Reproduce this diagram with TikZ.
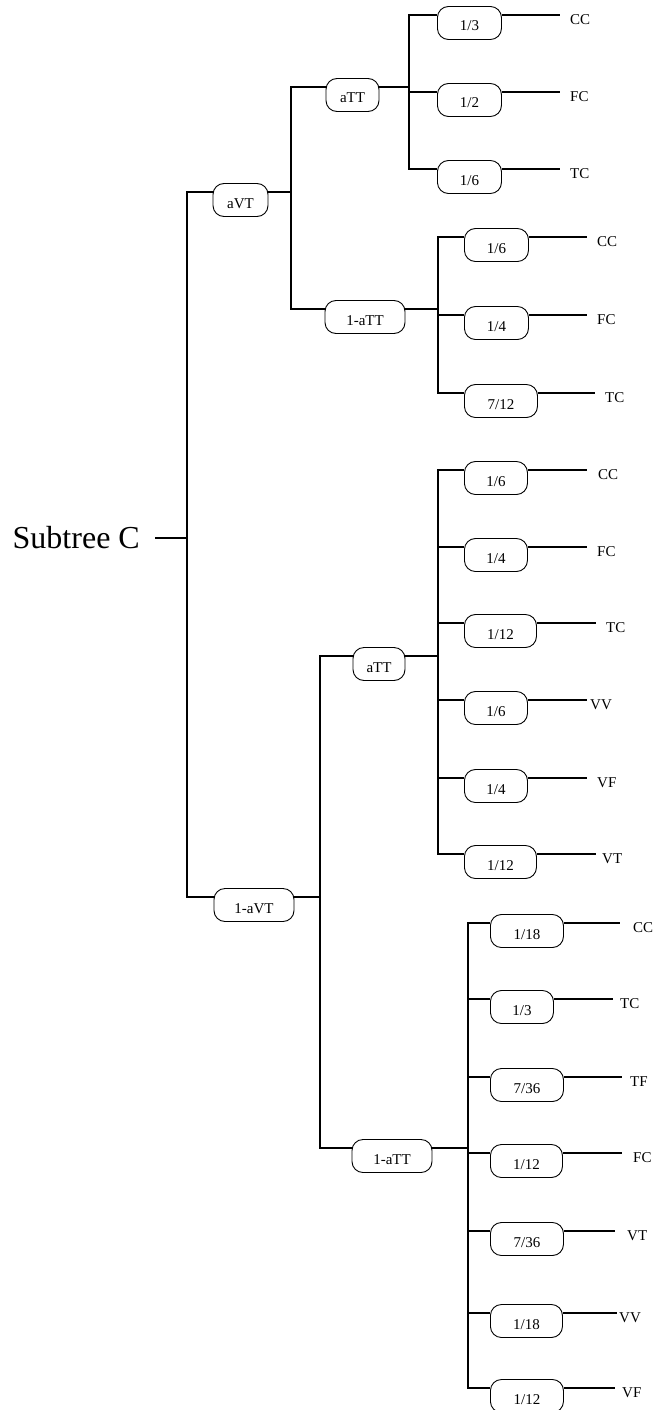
\documentclass[tikz,border=0pt]{standalone}
\usepackage{fontspec}
\setmainfont{Liberation Serif}
\tikzset{
  % ramo dell'albero
  branch/.style={line width=1.1pt},
  % probabilita' nel riquadro arrotondato
  prob/.style={draw, line width=0.9pt, rounded corners=11pt, minimum height=33pt,
    inner sep=1pt, text height=16pt, text depth=0pt, font=\fontsize{15}{17}\selectfont},
  % esito finale
  outcome/.style={font=\fontsize{15}{17}\selectfont, inner sep=0pt},
}

\begin{document}
\begin{tikzpicture}[x=1pt, y=-1pt]
  \useasboundingbox (0,0) rectangle (668,1410);
  \node[anchor=east, inner sep=0pt, font=\fontsize{32}{36}\selectfont] (sub) at (140,538) {Subtree C};
  \coordinate (j0) at (187,538);
  \node[prob, minimum width=55pt] (avt) at (240.5,200) {aVT};
  \node[prob, minimum width=80pt] (navt) at (254,905) {1-aVT};
  \node[prob, minimum width=53pt] (att1) at (352.5,95) {aTT};
  \node[prob, minimum width=80pt] (natt1) at (365,317) {1-aTT};
  \node[prob, minimum width=52pt] (att2) at (379,664) {aTT};
  \node[prob, minimum width=80pt] (natt2) at (392,1156) {1-aTT};
  \coordinate (jv1) at (291,192); \coordinate (jv2) at (320,897);
  \coordinate (jA) at (409,87); \coordinate (jB) at (438,309);
  \coordinate (jC) at (438,656); \coordinate (jD) at (468,1148);
  \draw[branch] ([xshift=15pt]sub.east) -- (j0);
  \draw[branch] (j0) |- ([yshift=8pt]avt.west);
  \draw[branch] (j0) |- ([yshift=8pt]navt.west);
  \draw[branch] ([yshift=8pt]avt.east) -- (jv1);
  \draw[branch] (jv1) |- ([yshift=8pt]att1.west);
  \draw[branch] (jv1) |- ([yshift=8pt]natt1.west);
  \draw[branch] ([yshift=8pt]navt.east) -- (jv2);
  \draw[branch] (jv2) |- ([yshift=8pt]att2.west);
  \draw[branch] (jv2) |- ([yshift=8pt]natt2.west);
  \draw[branch] ([yshift=8pt]att1.east) -- (jA);
  \draw[branch] ([yshift=8pt]natt1.east) -- (jB);
  \draw[branch] ([yshift=8pt]att2.east) -- (jC);
  \draw[branch] ([yshift=8pt]natt2.east) -- (jD);
  % foglie: gruppo/y/prob/sinistra/larghezza/fine linea/etichetta/esito
  \foreach \g/\y/\p/\l/\w/\e/\t/\r [count=\i] in {
    A/15/{1/3}/437/64/560/570/CC, A/92/{1/2}/437/64/560/570/FC, A/169/{1/6}/437/64/560/570/TC,
    B/237/{1/6}/464/64/587/597/CC, B/315/{1/4}/464/64/587/597/FC, B/393/{7/12}/464/73/595/605/TC,
    C/470/{1/6}/464/63/587/598/CC, C/547/{1/4}/464/63/587/597/FC, C/623/{1/12}/464/72/596/606/TC,
    C/700/{1/6}/464/63/587/590/VV, C/778/{1/4}/464/63/587/597/VF, C/854/{1/12}/464/72/596/602/VT,
    D/923/{1/18}/490/73/620/633/CC, D/999/{1/3}/490/63/613/620/TC, D/1077/{7/36}/490/73/622/630/TF,
    D/1153/{1/12}/490/72/622/633/FC, D/1231/{7/36}/490/73/615/627/VT, D/1313/{1/18}/490/72/617/619/VV,
    D/1388/{1/12}/490/73/615/622/VF} {
    \node[prob, minimum width=\w pt, anchor=west] (L\i) at (\l,\y+8) {\p};
    \node[outcome, anchor=west] (R\i) at (\t,\y+5) {\r};
    \coordinate (E\i) at (\e,\y);
    \draw[branch] (j\g) |- ([yshift=8pt]L\i.west);
    \draw[branch] ([yshift=8pt]L\i.east) -- (E\i);
  }
\end{tikzpicture}
\end{document}
